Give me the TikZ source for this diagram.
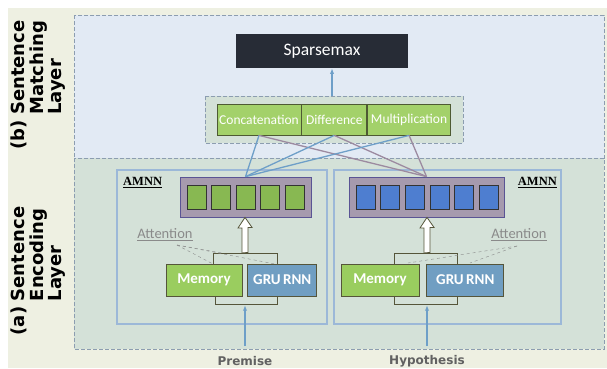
\documentclass[tikz,border=0pt]{standalone}
\usepackage{fontspec}
\setmainfont{Carlito}
\newfontfamily\sidefont{DejaVu Sans}
\newfontfamily\amnnfont{Liberation Serif}
\usetikzlibrary{arrows.meta,positioning,calc}

\definecolor{pagebg}{HTML}{EEF0E2}
\definecolor{matchbg}{HTML}{E2EAF4}
\definecolor{encbg}{HTML}{D4E1D8}
\definecolor{dashgray}{HTML}{8C9DB0}
\definecolor{sparsebg}{HTML}{272C36}
\definecolor{compgreen}{HTML}{A3D16A}
\definecolor{compline}{HTML}{4E5A33}
\definecolor{memgreen}{HTML}{9ACD5F}
\definecolor{grublue}{HTML}{709EC2}
\definecolor{vecfill}{HTML}{A69AAE}
\definecolor{vecline}{HTML}{5A5494}
\definecolor{sqgreen}{HTML}{88B852}
\definecolor{sqblue}{HTML}{4E7ED0}
\definecolor{linkblue}{HTML}{6E9FC8}
\definecolor{linkpurple}{HTML}{9C8AA0}
\definecolor{panelline}{HTML}{9CB8D8}
\definecolor{brkline}{HTML}{55553A}
\definecolor{attgray}{HTML}{8A8A8A}

\tikzset{
  layerbox/.style={draw=dashgray, dash pattern=on 4pt off 2pt, line width=1pt},
  compbox/.style={draw=compline, thick, fill=compgreen, text=white, minimum height=31pt, inner sep=0pt, font=\fontsize{13.5}{15}\selectfont},
  cellbox/.style={draw=black!80, thick, minimum width=19pt, minimum height=24pt, inner sep=0pt},
  vecbox/.style={draw=vecline, fill=vecfill, thick, minimum height=40pt, inner sep=0pt},
  membox/.style={draw=brkline, thick, fill=memgreen, text=white, minimum height=32pt, inner sep=0pt, font=\fontsize{15}{17}\bfseries\selectfont},
  grubox/.style={membox, fill=grublue},
  brk/.style={draw=brkline, thick},
  hollow/.style={draw=brkline, thick, fill=white},
  attline/.style={draw=attgray, dashed, thin},
  amnn/.style={font=\amnnfont\fontsize{12.5}{14}\bfseries\selectfont, inner sep=0pt},
  attlabel/.style={text=attgray, font=\fontsize{14.5}{16}\selectfont, inner sep=0pt},
  inlabel/.style={text=black!62, font=\sidefont\fontsize{12}{14}\bfseries\selectfont, inner sep=0pt},
  sidelabel/.style={rotate=90, inner sep=0pt, font=\sidefont\fontsize{18}{17}\bfseries\selectfont},
}

\begin{document}
\begin{tikzpicture}[x=1pt, y=-1pt, >={Latex[length=2mm]}]
	\useasboundingbox (0,0) rectangle (607,368);
	\fill[white] (0,0) rectangle (607,368);
	\fill[pagebg] (8,8) rectangle (607,368);
	% layers
	\draw[layerbox, fill=matchbg] (74,15) rectangle (604,158);
	\draw[layerbox, fill=encbg] (74,158) rectangle (604,349);
	\node[sidelabel] (matchlbl) at (39,85) {\begin{tabular}{@{}l@{\hspace{0.3em}}l@{}}(b)&Sentence\\&Matching\\&Layer\end{tabular}};
	\node[sidelabel] (enclbl) at (39,271) {\begin{tabular}{@{}l@{\hspace{0.3em}}l@{}}(a)&Sentence\\&Encoding\\&Layer\end{tabular}};
	% matching layer
	\node[fill=sparsebg, text=white, minimum width=172pt, minimum height=34pt, font=\fontsize{17.5}{19}\selectfont] (sparse) at (322,51) {Sparsemax};
	\draw[layerbox, fill=encbg] (205,96) rectangle (463,143);
	\node[compbox, minimum width=84pt] (concat) at (259,119.5) {Concatenation};
	\node[compbox, minimum width=65pt, right=0pt of concat] (diff) {Difference};
	\node[compbox, minimum width=83pt, right=0pt of diff] (mult) {Multiplication};
	\draw[->, linkblue, line width=1.3pt] (332,96) -- (sparse.south -| 332,0);
	% encoding panels
	\draw[panelline, line width=1.1pt] (117,170) rectangle (327,324);
	\draw[panelline, line width=1.1pt] (334,170) rectangle (561,324);
	\node[amnn, anchor=north west] (lamnn) at (123,177) {\underline{AMNN}};
	\node[amnn, anchor=north east] (ramnn) at (557,177) {\underline{AMNN}};
	\node[vecbox, minimum width=131pt] (lvec) at (245.5,197) {};
	\foreach \i in {0,...,4}
		\node[cellbox, fill=sqgreen] (lcell\i) at (196.5+24.6*\i,197) {};
	\node[vecbox, minimum width=155pt] (rvec) at (426.5,197) {};
	\foreach \i in {0,...,5}
		\node[cellbox, fill=sqblue] (rcell\i) at (365.5+24.7*\i,197) {};
	\node[membox, minimum width=76pt] (lmem) at (204,280) {Memory};
	\node[grubox, minimum width=69pt, right=5pt of lmem] (lgru) {GRU\,RNN};
	\node[membox, minimum width=78pt] (rmem) at (380,280) {Memory};
	\node[grubox, minimum width=77pt, right=7pt of rmem] (rgru) {GRU\,RNN};
	% brackets and arrows
	\draw[brk] (213,264) |- (277,253) -- (277,264);
	\draw[brk] (215,296) |- (277,304) -- (277,296);
	\draw[brk] (394,264) |- (457,253) -- (457,264);
	\draw[brk] (394,296) |- (457,304) -- (457,296);
	\coordinate (ltop) at (245,253);
	\coordinate (rtop) at (427,253);
	\draw[hollow] (ltop) ++(-3,0) -- ++(0,-25) -- ++(-4,0) -- (lvec.south -| ltop) -- ++(7,10) -- ++(-4,0) -- ++(0,25) -- cycle;
	\draw[hollow] (rtop) ++(-3,0) -- ++(0,-25) -- ++(-4,0) -- (rvec.south -| rtop) -- ++(7,10) -- ++(-4,0) -- ++(0,25) -- cycle;
	\node[inlabel] (prem) at (245,361) {Premise};
	\node[inlabel] (hyp) at (427,361) {Hypothesis};
	\coordinate (lin) at (245,346);
	\coordinate (rin) at (427,346);
	\draw[->, linkblue, line width=1.3pt] (lin) -- (245,305);
	\draw[->, linkblue, line width=1.3pt] (rin) -- (427,305);
	% attention
	\node[attlabel] (latt) at (165,235) {\underline{Attention}};
	\node[attlabel] (ratt) at (519,235) {\underline{Attention}};
	\draw[attline] (177,245) -- (213,264);
	\draw[attline] (177,245) -- (222,253);
	\draw[attline] (177,245) -- (275,264);
	\draw[attline] (517,246) -- (408,263);
	\draw[attline] (517,246) -- (470,263);
	% links between layers
	\foreach \c in {concat,diff,mult} {
		\draw[linkblue, line width=1.3pt] (\c.south) -- (lvec.north);
		\draw[linkpurple, line width=1.3pt] (\c.south) -- (rvec.north);
	}
\end{tikzpicture}
\end{document}
